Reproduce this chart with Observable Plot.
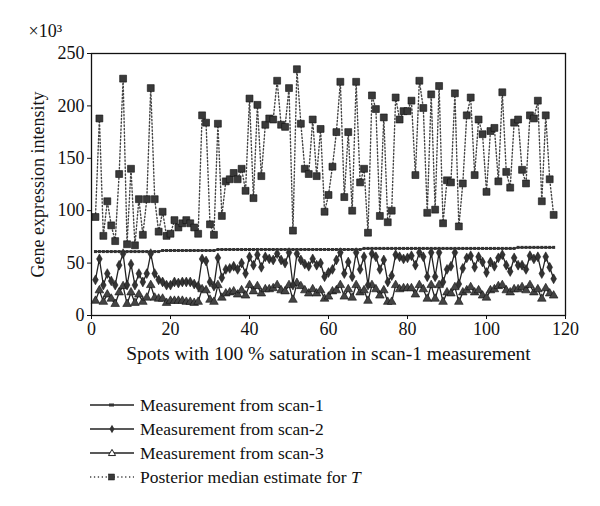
<!DOCTYPE html>
<html><head><meta charset="utf-8">
<script src="https://cdn.jsdelivr.net/npm/d3@7"></script>
<script src="https://cdn.jsdelivr.net/npm/@observablehq/plot@0.6"></script>
<style>
body{margin:0;background:#fff;font-family:"Liberation Serif",serif;}
#legend{margin-left:89px;margin-top:18px;}
.row{display:flex;align-items:center;height:24px;font-size:17.5px;color:#111;}
.row svg{margin-right:5px;flex:none}
</style></head><body>
<div id="chart"></div><div id="legend"></div>
<script>
const xTicks = [0, 20, 40, 60, 80, 100, 120];
const yTicks = [0, 50, 100, 150, 200, 250];
const seriesNames = ["Measurement from scan-1", "Measurement from scan-2", "Measurement from scan-3", "Posterior median estimate for "];

const scan1 = [61,61,61,61,61,61,61,61,61,61,61,61,61,61,61,61,61,
  62,62,62,62,62,62,62,62,62,62,62,62,62,62,
  63,63,63,63,63,63,63,63,63,63,63,63,63,63,63,63,63,63,63,63,63,63,63,63,63,63,63,63,63,63,63,63,63,63,63,63,63,
  64,64,64,64,64,64,64,64,64,64,64,64,64,64,64,64,64,64,64,64,64,64,64,64,64,64,64,64,64,64,64,64,64,64,64,64,64,64,64,
  65,65,65,65,65,65,65,65,65,65];
const scan2 = [34,54,29,40,33,29,48,59,29,49,29,40,32,40,59,40,34,32,29,29,32,31,32,
  32,32,30,28,54,52,32,28,55,36,44,45,47,44,50,40,56,48,58,46,56,54,53,59,
  53,50,60,29,59,53,49,47,54,48,50,37,41,44,53,60,40,51,37,60,44,56,29,59,
  56,44,53,32,38,58,56,54,55,57,48,60,56,37,60,37,60,32,44,47,60,30,45,55,
  57,46,56,51,41,51,47,55,58,48,42,55,48,48,44,57,54,56,40,56,46,35];
const scan3 = [14,24,13,20,16,11,22,28,11,22,12,20,13,17,29,17,16,16,12,14,14,14,14,
  13,13,12,13,25,24,15,13,29,17,21,22,23,20,24,19,29,23,28,21,25,25,26,29,
  24,23,29,15,31,28,24,21,25,21,24,16,18,23,24,29,18,25,17,29,22,24,14,29,
  25,19,24,13,13,29,25,26,26,26,20,29,25,16,29,16,29,13,22,21,27,13,22,24,
  27,22,24,19,17,24,25,28,29,24,22,25,25,27,24,29,22,25,16,26,21,19];
const posterior = [94,188,76,109,86,71,135,226,68,140,67,111,77,111,217,111,80,99,76,78,91,84,88,
  91,88,84,78,191,184,87,77,183,95,128,130,136,130,140,119,207,112,201,133,182,188,187,224,
  182,180,217,81,235,183,140,135,187,133,178,99,115,142,175,223,113,175,100,223,127,140,79,210,
  197,95,189,89,100,208,187,195,195,205,134,224,198,98,211,101,219,88,129,127,212,85,126,191,
  208,134,187,173,118,176,179,128,213,137,122,184,187,139,126,191,188,205,109,191,130,96];

const spots = posterior.map((_, i) => i + 1);
const rows = (vals) => vals.map((v, i) => ({spot: spots[i], v}));
const d1 = rows(scan1), d2 = rows(scan2), d3s = rows(scan3), dp = rows(posterior);

const lineCol = "#222";
const chart = Plot.plot({
  width: 600, height: 375,
  marginLeft: 91, marginRight: 35, marginTop: 53, marginBottom: 60,
  style: {fontFamily: "'Liberation Serif', serif", fontSize: "18px", color: "#111", background: "#fff"},
  x: {domain: [0, 120]},
  y: {domain: [0, 250]},
  marks: [
    Plot.axisX({ticks: xTicks, tickSize: 4, tickPadding: 3, fontSize: 18, label: null}),
    Plot.axisX({ticks: [], tickSize: 0, fontSize: 19.5, label: "Spots with 100 % saturation in scan-1 measurement", labelAnchor: "center", labelOffset: 44, labelArrow: "none"}),
    Plot.axisY({ticks: yTicks, tickSize: 4, tickPadding: 3, fontSize: 18, label: "Gene expression intensity", labelAnchor: "center", labelOffset: 60, labelArrow: "none"}),
    Plot.line(dp, {x: "spot", y: "v", stroke: "#444", strokeWidth: 1.4, strokeDasharray: "1.3,2.2"}),
    Plot.dot(dp, {x: "spot", y: "v", symbol: "square", r: 3.9, fill: "#3a3a3a", stroke: "#111", strokeWidth: 0.6}),
    Plot.line(d3s, {x: "spot", y: "v", stroke: lineCol, strokeWidth: 1.3}),
    Plot.dot(d3s, {x: "spot", y: "v", symbol: "triangle", r: 3.2, fill: "#444", stroke: "#111", strokeWidth: 0.6}),
    Plot.line(d2, {x: "spot", y: "v", stroke: lineCol, strokeWidth: 1.3}),
    Plot.dot(d2, {x: "spot", y: "v", symbol: "diamond", r: 3.0, fill: "#333", stroke: "#111", strokeWidth: 0.5}),
    Plot.line(d1, {x: "spot", y: "v", stroke: lineCol, strokeWidth: 1.5}),
    Plot.dot(d1, {x: "spot", y: "v", symbol: "square", r: 1.7, fill: "#333"}),
    Plot.frame({stroke: "#111", strokeWidth: 1.3}),
    Plot.text(["×10³"], {frameAnchor: "top-left", dx: -63, dy: -29, textAnchor: "start", fontSize: 18, fill: "#111"})
  ]
});
document.getElementById("chart").appendChild(chart);

// legend
const legend = d3.select("#legend");
const kinds = ["square-small", "diamond", "triangle", "square"];
seriesNames.forEach((name, i) => {
  const row = legend.append("div").attr("class", "row");
  const svg = row.append("svg").attr("width", 46).attr("height", 20);
  svg.append("line").attr("x1", 1).attr("x2", 45).attr("y1", 10).attr("y2", 10)
    .attr("stroke", i === 3 ? "#444" : lineCol).attr("stroke-width", i === 3 ? 1.4 : 1.3)
    .attr("stroke-dasharray", i === 3 ? "1.3,2.6" : null);
  const k = kinds[i];
  if (k === "square-small") svg.append("rect").attr("x", 20).attr("y", 8.5).attr("width", 5).attr("height", 3).attr("fill", "#333");
  if (k === "square") svg.append("rect").attr("x", 19.5).attr("y", 7).attr("width", 6).attr("height", 6).attr("fill", "#3a3a3a").attr("stroke", "#111").attr("stroke-width", 0.5);
  if (k === "diamond") svg.append("path").attr("d", d3.symbol(d3.symbolDiamond, 22)()).attr("transform", "translate(23,10)").attr("fill", "#333");
  if (k === "triangle") svg.append("path").attr("d", d3.symbol(d3.symbolTriangle, 22)()).attr("transform", "translate(23,10.5)").attr("fill", "#fff").attr("stroke", "#222").attr("stroke-width", 1);
  const span = row.append("span").text(name);
  if (i === 3) span.append("i").text("T");
});
</script></body></html>
